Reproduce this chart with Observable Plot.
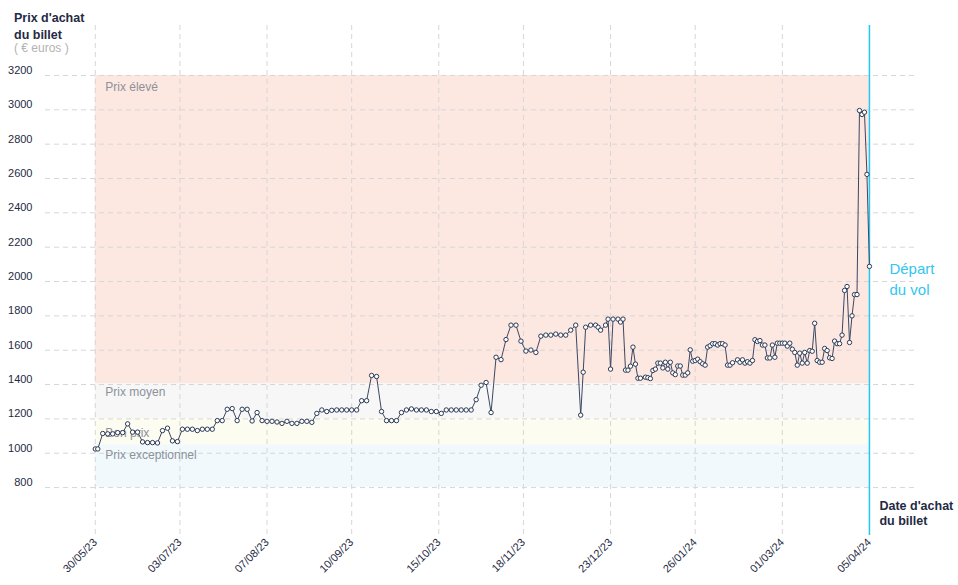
<!DOCTYPE html>
<html><head><meta charset="utf-8">
<script src="https://cdn.jsdelivr.net/npm/d3@7"></script>
<script src="https://cdn.jsdelivr.net/npm/@observablehq/plot@0.6"></script>
<style>
body{margin:0;background:#fff;font-family:"Liberation Sans",Arial,sans-serif;}
#wrap{position:relative;width:958px;height:585px;}
#title{position:absolute;left:14px;top:10px;color:#1f2a44;font-weight:bold;font-size:12.5px;line-height:17px;}
#title .unit{font-weight:normal;color:#b3b3b3;font-size:12px;line-height:12px;margin-top:-2px;}
</style></head><body>
<div id="wrap"><div id="title">Prix d'achat<br>du billet<div class="unit">( € euros )</div></div></div>
<script>
// Purchase day (days since 30/05/23) and ticket price (€)
const purchaseDay = [
0,1,3,5,7,9,11,13,15,17,19,21,23,25,27,29,31,33,35,37,39,41,43,45,47,49,51,53,55,57,59,61,63,65,67,69,
71,73,75,77,79,81,83,85,87,89,91,93,95,97,99,101,103,105,107,109,111,113,115,117,119,121,123,125,127,129,
131,133,135,137,139,141,143,145,147,149,151,153,155,157,159,161,163,165,167,169,171,173,175,177,179,181,
183,185,187,189,191,193,195,196,197,199,201,202,203,205,206,207,208,210,211,212,213,214,215,216,217,218,219,
221,222,223,224,225,226,227,228,229,230,231,232,233,234,235,236,237,238,239,240,241,242,243,244,245,246,
247,248,249,250,251,252,253,254,255,256,258,259,260,261,262,263,264,265,266,267,268,269,270,271,272,273,
274,275,276,277,278,279,280,281,282,283,284,285,286,287,288,289,290,291,292,293,294,295,296,297,298,299,
300,301,302,303,304,305,306,307,308,309,310,311];
const price = [
1025,1025,1115,1113,1113,1120,1120,1171,1123,1123,1066,1062,1062,1060,1132,1146,1072,1068,1140,1140,1140,1132,1140,1140,1140,1190,1190,1256,1260,1190,1256,1256,1188,1237,1190,1186,
1186,1182,1174,1186,1174,1174,1186,1186,1180,1232,1252,1243,1250,1252,1252,1252,1252,1252,1306,1306,1453,1447,1243,1190,1190,1190,1237,1252,1258,1252,
1252,1252,1243,1243,1232,1252,1252,1252,1252,1252,1252,1312,1396,1412,1237,1559,1545,1662,1746,1746,1653,1595,1601,1587,1682,1688,
1688,1694,1688,1688,1717,1746,1222,1472,1734,1746,1746,1734,1717,1746,1781,1490,1781,1781,1764,1781,1484,1484,1507,1618,1519,1437,1437,
1443,1440,1435,1482,1490,1525,1525,1497,1530,1490,1530,1468,1458,1508,1508,1455,1455,1468,1602,1536,1540,1548,1533,1521,1513,1618,
1626,1638,1638,1630,1638,1638,1630,1513,1513,1527,1544,1530,1544,1525,1533,1525,1540,1661,1651,1656,1630,1630,1555,1555,1630,1559,
1641,1641,1641,1641,1624,1641,1606,1587,1513,1583,1525,1587,1525,1598,1594,1757,1540,1530,1530,1610,1598,1556,1552,1653,1638,1638,
1688,1948,1971,1645,1800,1924,1924,2996,2973,2986,2624,2088];

const startDate = "2023-05-30";
const departureDate = "2024-04-05";
const xTickLabels = ["2023-05-30","2023-07-03","2023-08-07","2023-09-10","2023-10-15","2023-11-18","2023-12-23","2024-01-26","2024-03-01","2024-04-05"];
const yTicks = [800,1000,1200,1400,1600,1800,2000,2200,2400,2600,2800,3000,3200];
const bandNames = ["Prix élevé","Prix moyen","Bon prix","Prix exceptionnel"];
const bandHigh = [3200,1405,1200,1050];
const bandLow = [1405,1200,1050,800];

const bandColors = ["#fde7e1","#f7f7f7","#fcfcf0","#f2f9fd"];
const labelDy = [12, 8, 14, 10];
const parse = d3.utcParse("%Y-%m-%d");
const start = parse(startDate);
const depart = parse(departureDate);
const data = purchaseDay.map((d,i)=>({date:d3.utcDay.offset(start,d), price:price[i]}));
const bands = bandNames.map((n,i)=>({name:n, high:bandHigh[i], low:bandLow[i]}));
const ticks = xTickLabels.map(parse);

const chart = Plot.plot({
  width:958, height:585,
  marginTop:25, marginBottom:50, marginLeft:45, marginRight:40,
  style:{fontFamily:"'Liberation Sans', Arial, sans-serif", fontSize:"11px", color:"#1f2a44", background:"transparent", overflow:"visible"},
  x:{type:"utc", domain:[d3.utcDay.offset(start,-20), d3.utcHour.offset(start,331*24-7)]},
  y:{domain:[521,3491]},
  color:{domain:bandNames, range:bandColors},
  marks:[
    Plot.rect(bands,{x1:start, x2:depart, y1:"low", y2:"high", fill:"name"}),
    Plot.gridY(yTicks,{stroke:"#d6d6d6", strokeOpacity:1, strokeDasharray:"5,4"}),
    Plot.gridX(ticks,{stroke:"#d6d6d6", strokeOpacity:1, strokeDasharray:"5,4"}),
    Plot.axisY(yTicks,{tickSize:0, tickPadding:13, dy:-5, label:null, tickFormat:d=>String(d), fill:"#1f2a44", fontSize:11}),
    Plot.axisX(ticks,{tickSize:0, tickRotate:-45, tickPadding:5, label:null, tickFormat:d3.utcFormat("%d/%m/%y"), fill:"#1f2a44", fontSize:11}),
    ...bands.map((b,i)=>Plot.text([b],{x:start, y:"high", text:"name", textAnchor:"start", dx:10, dy:labelDy[i], fill:"#8c919c", fontSize:12})),
    Plot.ruleX([depart],{stroke:"#22c7f2", strokeWidth:1.5}),
    Plot.line(data,{x:"date", y:"price", stroke:"#3c4863", strokeWidth:1}),
    Plot.dot(data,{x:"date", y:"price", r:2.2, fill:"white", stroke:"#2b3a55", strokeWidth:1}),
    Plot.text(["Départ\ndu vol"],{x:depart, y:2020, text:d=>d, textAnchor:"start", dx:20, fill:"#33c6f0", fontSize:15, lineHeight:1.4}),
    Plot.text(["Date d'achat\ndu billet"],{x:depart, frameAnchor:"bottom", text:d=>d, textAnchor:"start", lineAnchor:"bottom", dx:10, dy:-11, fill:"#1f2a44", fontSize:12.5, fontWeight:"bold", lineHeight:1.2})
  ]
});
document.getElementById("wrap").prepend(chart);
</script>
</body></html>
